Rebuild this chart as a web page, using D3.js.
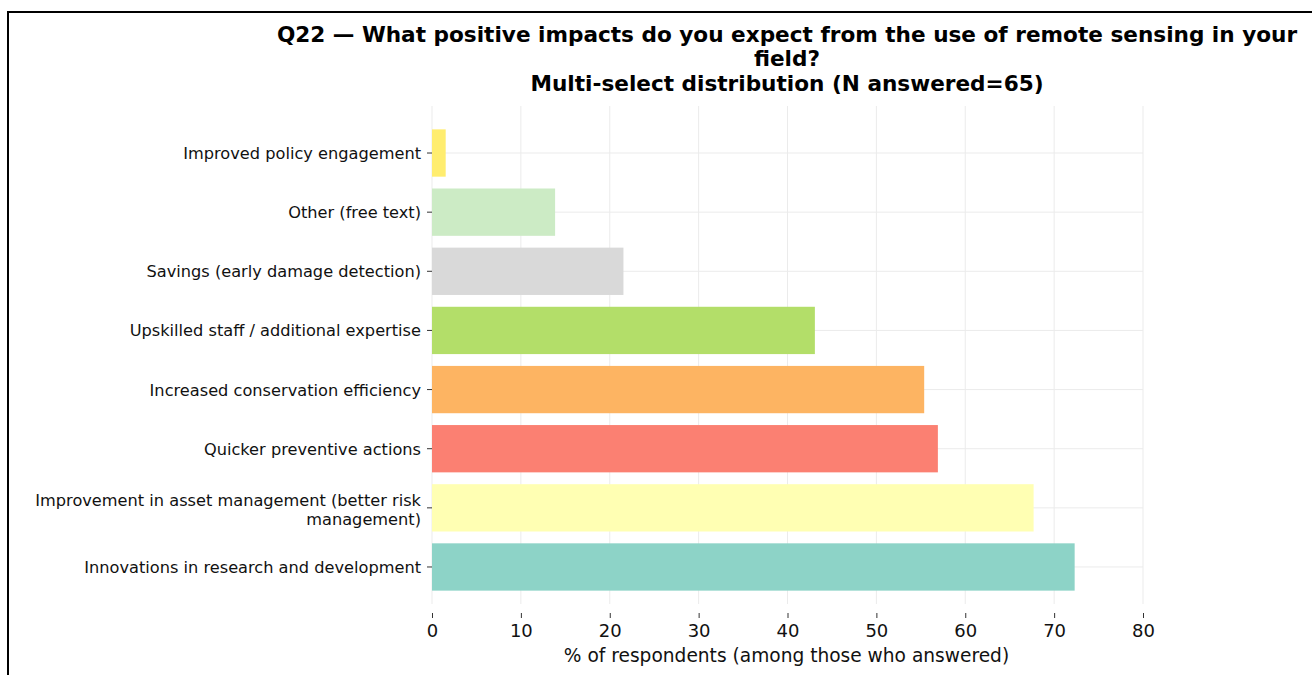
<!DOCTYPE html>
<html>
<head>
<meta charset="utf-8">
<script src="https://cdn.jsdelivr.net/npm/d3@7"></script>
<style>
  html, body { margin: 0; padding: 0; background: #fff; }
  svg { display: block; font-family: "DejaVu Sans", sans-serif; }
</style>
</head>
<body>
<svg id="chart" width="1312" height="675"></svg>
<script>
const titleLines = [
  "Q22 \u2014 What positive impacts do you expect from the use of remote sensing in your",
  "field?",
  "Multi-select distribution (N answered=65)"
];
const categories = [
  "Improved policy engagement",
  "Other (free text)",
  "Savings (early damage detection)",
  "Upskilled staff / additional expertise",
  "Increased conservation efficiency",
  "Quicker preventive actions",
  "Improvement in asset management (better risk management)",
  "Innovations in research and development"
];
const values = [1.54, 13.85, 21.54, 43.08, 55.38, 56.92, 67.69, 72.31];
const colors = ["#ffed6f", "#ccebc5", "#d9d9d9", "#b3de69", "#fdb462", "#fb8072", "#ffffb3", "#8dd3c7"];
const xTicks = [0, 10, 20, 30, 40, 50, 60, 70, 80];
const xLabel = "% of respondents (among those who answered)";

const svg = d3.select("#chart");

// frame border
svg.append("rect")
  .attr("x", 8).attr("y", 12)
  .attr("width", 1400).attr("height", 800)
  .attr("fill", "none").attr("stroke", "#000").attr("stroke-width", 2);

const plot = { left: 432, right: 1143, top: 106, bottom: 604 };

const x = d3.scaleLinear().domain([0, 80]).range([plot.left, plot.right]);
const y = d3.scaleBand().domain(categories)
  .range([123.45, 596.55]).paddingInner(0.2).paddingOuter(0.1);

// grid
const g = svg.append("g");
g.selectAll("line.vg").data(xTicks).enter().append("line")
  .attr("x1", d => x(d)).attr("x2", d => x(d))
  .attr("y1", plot.top).attr("y2", plot.bottom)
  .attr("stroke", "#ebebeb").attr("stroke-width", 1);
g.selectAll("line.hg").data(categories).enter().append("line")
  .attr("x1", plot.left).attr("x2", plot.right)
  .attr("y1", d => y(d) + y.bandwidth() / 2).attr("y2", d => y(d) + y.bandwidth() / 2)
  .attr("stroke", "#ebebeb").attr("stroke-width", 1);

// bars
svg.append("g").selectAll("rect").data(categories).enter().append("rect")
  .attr("x", x(0))
  .attr("y", d => y(d))
  .attr("width", (d, i) => x(values[i]) - x(0))
  .attr("height", y.bandwidth())
  .attr("fill", (d, i) => colors[i]);

// y axis labels + ticks
function wrap(s, w) {
  const words = s.split(" ");
  const lines = [];
  let cur = "";
  words.forEach(wd => {
    const t = cur ? cur + " " + wd : wd;
    if (t.length > w && cur) { lines.push(cur); cur = wd; } else cur = t;
  });
  if (cur) lines.push(cur);
  return lines;
}
const yAxis = svg.append("g");
categories.forEach(c => {
  const cy = y(c) + y.bandwidth() / 2;
  const lines = wrap(c, 45);
  const shift = lines.length > 1 ? 2 : 0;
  yAxis.append("line")
    .attr("x1", plot.left - 5).attr("x2", plot.left)
    .attr("y1", cy).attr("y2", cy)
    .attr("stroke", "#333").attr("stroke-width", 1);
  const lh = 19;
  const t = yAxis.append("text")
    .attr("text-anchor", "end")
    .attr("font-size", 16.2)
    .attr("fill", "#111");
  lines.forEach((ln, k) => {
    t.append("tspan")
      .attr("x", plot.left - 11)
      .attr("y", cy + 6 + shift + (k - (lines.length - 1) / 2) * lh)
      .text(ln);
  });
});

// x axis (offset below)
const xAxisG = svg.append("g").attr("transform", `translate(0, ${plot.bottom + 9})`);
xAxisG.call(d3.axisBottom(x).tickValues(xTicks).tickSize(5).tickPadding(6).tickFormat(d3.format("d")));
xAxisG.select(".domain").remove();
xAxisG.selectAll(".tick line").attr("stroke", "#333");
xAxisG.selectAll(".tick text").attr("font-size", 18).attr("fill", "#111")
  .attr("font-family", "DejaVu Sans, sans-serif");

svg.append("text")
  .attr("x", (plot.left + plot.right) / 2 - 1).attr("y", 662)
  .attr("text-anchor", "middle").attr("font-size", 18.6).attr("fill", "#111")
  .text(xLabel);

// title
const title = svg.append("text")
  .attr("text-anchor", "middle")
  .attr("font-size", 21.6).attr("font-weight", "bold").attr("fill", "#000");
const titleBase = [42, 66, 91];
titleLines.forEach((t, i) => {
  title.append("tspan").attr("x", 787).attr("y", titleBase[i]).text(t);
});
</script>
</body>
</html>
